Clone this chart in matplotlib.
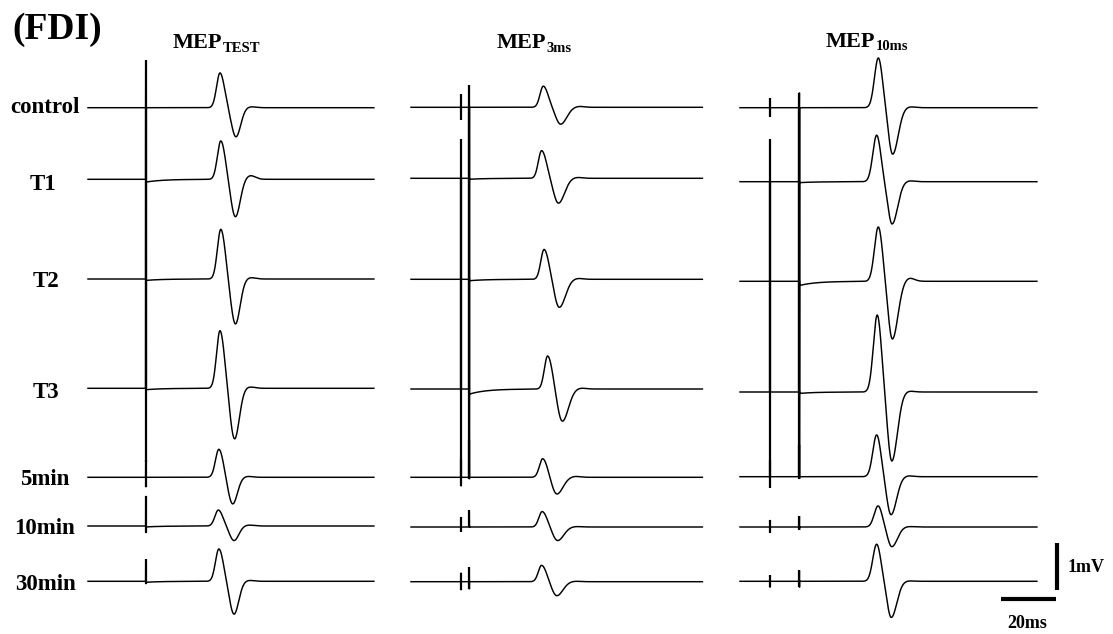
import numpy as np
import matplotlib
matplotlib.use("Agg")
import matplotlib.pyplot as plt

# ---------------- data ----------------
rows = ["control", "T1", "T2", "T3", "5min", "10min", "30min"]
col_subs = ["TEST", "3ms", "10ms"]

# stimulus times (ms from the start of each sweep)
test_stim_ms = [21.0, 21.2, 21.6]
cond_stim_ms = [None, 18.2, 10.9]
sweep_ms = [104, 106, 108]

# MEP positive peak / negative trough amplitudes (mV)
peak_test = [0.74, 0.82, 1.06, 1.23, 0.60, 0.34, 0.69]
trough_test = [0.62, 0.80, 0.96, 1.08, 0.57, 0.31, 0.70]
peak_3ms = [0.45, 0.59, 0.64, 0.71, 0.40, 0.33, 0.35]
trough_3ms = [0.36, 0.53, 0.60, 0.69, 0.36, 0.29, 0.30]
peak_10ms = [1.06, 0.99, 1.16, 1.64, 0.89, 0.45, 0.79]
trough_10ms = [0.99, 0.90, 1.23, 1.47, 0.81, 0.42, 0.77]

# latencies of peak / trough (ms from sweep start)
peak_lat_test = [48.0, 48.3, 48.3, 48.0, 47.6, 47.4, 47.6]
trough_lat_test = [53.8, 53.6, 53.6, 53.3, 52.6, 53.1, 53.1]
peak_lat_3ms = [48.1, 47.5, 48.4, 49.7, 47.9, 47.7, 47.5]
trough_lat_3ms = [54.4, 53.6, 53.9, 55.0, 53.0, 53.3, 53.0]
peak_lat_10ms = [50.3, 49.7, 50.3, 49.9, 49.7, 50.2, 49.7]
trough_lat_10ms = [55.5, 55.3, 55.4, 55.2, 54.9, 55.2, 55.0]

# stimulus artefacts: upward / downward excursions (mV)
test_art_up_test = [1.01, 1.53, 2.11, 2.32, 0.36, 0.64, 0.47]
test_art_dn_test = [1.53, 2.13, 2.32, 1.57, 0.21, 0.15, 0.06]
cond_art_up_3ms = [0.28, 0.83, 2.13, 2.34, 0.40, 0.21, 0.19]
cond_art_dn_3ms = [0.26, 2.15, 2.34, 1.87, 0.19, 0.10, 0.18]
test_art_up_3ms = [0.47, 1.51, 2.15, 2.34, 0.79, 0.36, 0.31]
test_art_dn_3ms = [1.51, 2.15, 2.34, 1.89, 0.04, 0.00, 0.16]
cond_art_up_10ms = [0.20, 0.90, 2.12, 2.36, 0.36, 0.15, 0.13]
cond_art_dn_10ms = [0.19, 2.11, 2.36, 1.80, 0.24, 0.12, 0.13]
test_art_up_10ms = [0.32, 1.57, 2.12, 2.36, 0.68, 0.23, 0.23]
test_art_dn_10ms = [1.57, 2.12, 2.36, 1.80, 0.05, 0.06, 0.13]

# post-artefact baseline shift (mV) and late overshoot (mV)
shift_test = [0.0, -0.06, -0.03, -0.03, 0.0, -0.02, -0.02]
shift_3ms = [0.0, -0.02, -0.03, -0.11, 0.0, 0.0, 0.0]
shift_10ms = [0.0, -0.02, -0.09, -0.03, 0.0, 0.0, 0.0]
over_test = [0.02, 0.08, 0.03, 0.03, 0.02, 0.02, 0.02]
over_3ms = [0.02, 0.02, 0.02, 0.02, 0.02, 0.01, 0.01]
over_10ms = [0.02, 0.02, 0.07, 0.02, 0.02, 0.01, 0.01]

scale_mv = 1.0
scale_ms = 20.0

# ---------------- layout / style ----------------
W, H = 1113, 634
PX_MS = 2.75      # pixels per ms
PX_MV = 47.0      # pixels per mV
col_start_px = [88, 411, 740]
baseline_px = [
    [107.7, 179.3, 279.0, 388.3, 477.3, 526.0, 581.3],
    [107.3, 178.3, 279.3, 389.0, 477.3, 527.0, 581.7],
    [107.7, 181.7, 281.3, 392.0, 476.7, 527.0, 581.3],
]
shape_sigma = [(1.25, 1.6, 1.7), (1.2, 1.75, 2.2), (1.4, 1.5, 2.0)]
label_x_px = [45, 43, 46, 46, 45, 45, 45]
label_base_px = [113.3, 190.0, 287.3, 398.3, 485.0, 534.0, 590.0]
title_x_px = [173, 496.7, 826]
title_base_px = [48.3, 48.3, 46.7]
SERIF = "Liberation Serif"

cols = [
    dict(peak=peak_test, trough=trough_test, tp=peak_lat_test, tt=trough_lat_test,
         cond=None, test=(test_art_up_test, test_art_dn_test), shift=shift_test, over=over_test),
    dict(peak=peak_3ms, trough=trough_3ms, tp=peak_lat_3ms, tt=trough_lat_3ms,
         cond=(cond_art_up_3ms, cond_art_dn_3ms), test=(test_art_up_3ms, test_art_dn_3ms),
         shift=shift_3ms, over=over_3ms),
    dict(peak=peak_10ms, trough=trough_10ms, tp=peak_lat_10ms, tt=trough_lat_10ms,
         cond=(cond_art_up_10ms, cond_art_dn_10ms), test=(test_art_up_10ms, test_art_dn_10ms),
         shift=shift_10ms, over=over_10ms),
]


def artefacts(ci, ri):
    c = cols[ci]
    arts = []
    if c["cond"] is not None:
        arts.append((cond_stim_ms[ci], c["cond"][0][ri], c["cond"][1][ri]))
    arts.append((test_stim_ms[ci], c["test"][0][ri], c["test"][1][ri]))
    return arts


def make_trace(ci, ri):
    c = cols[ci]
    t = np.arange(0, sweep_ms[ci], 0.04)
    sl, sm, sr = shape_sigma[ci]
    tp, tt = c["tp"][ri], c["tt"][ri]
    y = np.zeros_like(t)
    d = t - tp
    y += c["peak"][ri] * np.exp(-0.5 * (d / np.where(d < 0, sl, sm)) ** 2)
    d = t - tt
    y -= c["trough"][ri] * np.exp(-0.5 * (d / np.where(d < 0, sm, sr)) ** 2)
    y += c["over"][ri] * np.exp(-0.5 * ((t - (tt + 2.6 * sr + 1.0)) / 1.8) ** 2)
    ts = test_stim_ms[ci]
    y += np.where(t > ts, c["shift"][ri] * np.exp(-np.clip(t - ts, 0, None) / 6.0), 0.0)

    for ta, up, dn in artefacts(ci, ri):
        i = np.searchsorted(t, ta)
        base = y[i]
        t = np.insert(t, i, [ta, ta + 0.03, ta + 0.06])
        y = np.insert(y, i, [base + up, base - dn, base])
    return t, y


fig = plt.figure(figsize=(W / 100, H / 100), dpi=100)
ax = fig.add_axes([0, 0, 1, 1])
ax.set_xlim(0, W / PX_MS)
ax.set_ylim(-H / PX_MV, 0)
ax.axis("off")

for ci in range(3):
    x0 = col_start_px[ci] / PX_MS
    for ri in range(len(rows)):
        t, y = make_trace(ci, ri)
        y0 = -baseline_px[ci][ri] / PX_MV
        ax.plot(x0 + t, y0 + y, color="black", lw=1.05, solid_joinstyle="miter")
        # slightly heavier stroke for the stimulus artefacts
        for ta, up, dn in artefacts(ci, ri):
            ax.vlines(x0 + ta, y0 - dn, y0 + up, color="black", lw=1.6)

# scale bars
vx = 1057 / PX_MS
vy0 = -590 / PX_MV
ax.plot([vx, vx], [vy0, vy0 + scale_mv], color="black", lw=3.0, solid_capstyle="butt")
hx0 = 1001 / PX_MS
hy = -599.3 / PX_MV
ax.plot([hx0, hx0 + scale_ms], [hy, hy], color="black", lw=3.0, solid_capstyle="butt")


def fx(px):
    return px / W


def fy(py):
    return 1 - py / H


tk = dict(family=SERIF, weight="bold", color="black")
fig.text(fx(12), fy(39), "(FDI)", fontsize=27, ha="left", va="baseline", **tk)
for ri, lab in enumerate(rows):
    fig.text(fx(label_x_px[ri]), fy(label_base_px[ri]), lab, fontsize=16.5,
             ha="center", va="baseline", **tk)

fig.text(fx(1068), fy(572.5), "1mV", fontsize=13, ha="left", va="baseline", **tk)
fig.text(fx(1027.5), fy(628), "20ms", fontsize=13, ha="center", va="baseline", **tk)

fig.canvas.draw()
renderer = fig.canvas.get_renderer()
for ci in range(3):
    tt_ = fig.text(fx(title_x_px[ci]), fy(title_base_px[ci]), "MEP", fontsize=16,
                   ha="left", va="baseline", **tk)
    bb = tt_.get_window_extent(renderer)
    fig.text(bb.x1 / W, fy(title_base_px[ci] + 3.4), col_subs[ci], fontsize=10.5,
             ha="left", va="baseline", **tk)

fig.savefig("out.png", dpi=100)
